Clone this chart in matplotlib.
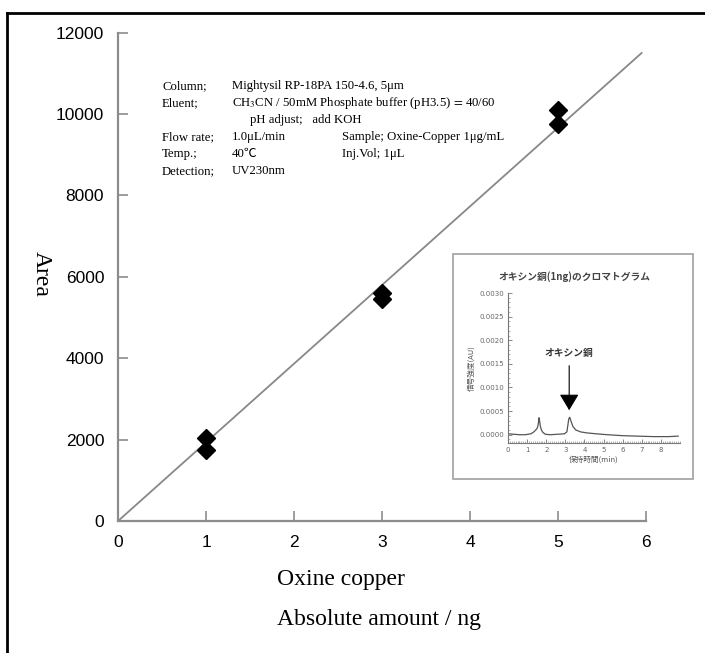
import matplotlib
matplotlib.use('Agg')
import matplotlib.pyplot as plt
from matplotlib.lines import Line2D
from matplotlib.patches import Rectangle
from matplotlib.ticker import MultipleLocator, FormatStrFormatter

plt.rcParams['mathtext.fontset'] = 'stix'

# calibration data (absolute amount ng, area)
amount = [1, 1, 3, 3, 5, 5]
area = [2040, 1740, 5600, 5450, 10100, 9750]
fit_x = [0, 5.95]
fit_y = [0, 11500]

# chromatogram of oxine copper (1 ng)
chrom_t = [0.0, 0.3, 0.6, 0.9, 1.2, 1.35, 1.45, 1.53, 1.58, 1.62, 1.65, 1.69, 1.75, 1.82, 1.95, 2.2,
           2.6, 2.95, 3.08, 3.13, 3.18, 3.23, 3.3, 3.4, 3.55, 3.8, 4.1, 4.6, 5.2, 6.0, 6.8, 7.6, 8.4, 8.9]
chrom_s = [0.00002, 0.00001, 0.0, 0.0, 0.00002, 0.00006, 0.00010, 0.00014, 0.00022, 0.00036, 0.00030,
           0.00018, 0.00010, 0.00005, 0.00001, 0.0, 0.00001, 0.00002, 0.00006, 0.00020, 0.00034, 0.00037,
           0.00028, 0.00017, 0.00010, 0.00006, 0.00004, 0.00002, 0.0, -0.00002, -0.00003, -0.00004,
           -0.00004, -0.00003]

x_ticks = [0, 1, 2, 3, 4, 5, 6]
y_ticks = [0, 2000, 4000, 6000, 8000, 10000, 12000]

fig = plt.figure(figsize=(7.05, 6.53), dpi=100)
ax = fig.add_axes([0.1674, 0.2021, 0.7489, 0.7479])

gray = '#8c8c8c'
ax.plot(fit_x, fit_y, color='#888888', lw=1.3, zorder=2)
ax.plot(amount, area, 'D', color='black', ms=9.5, zorder=3)

ax.set_xlim(0, 6)
ax.set_ylim(0, 12000)
ax.set_xticks(x_ticks)
ax.set_yticks(y_ticks)
for s in ['top', 'right']:
    ax.spines[s].set_visible(False)
for s in ['left', 'bottom']:
    ax.spines[s].set_color(gray)
    ax.spines[s].set_linewidth(1.6)
ax.tick_params(direction='in', length=7, width=1.2, color=gray, labelsize=12.5, pad=10)
for lab in ax.get_xticklabels() + ax.get_yticklabels():
    lab.set_fontfamily('Liberation Sans')

serif = ['Liberation Serif', 'Noto Sans CJK JP']
fig.text(0.393, 0.112, 'Oxine copper', fontsize=17, family=serif, ha='left', va='center')
fig.text(0.393, 0.052, 'Absolute amount / ng', fontsize=17, family=serif, ha='left', va='center')
fig.text(0.059, 0.58, 'Area', fontsize=17, family=serif, rotation=-90, ha='center', va='center')

# conditions block (y given in pixels from the top, baseline)
c1 = 0.230
c2 = 0.329
c3 = 0.485
info = [
    (c1, 89, 'Column;'), (c2, 89, 'Mightysil RP-18PA 150-4.6, 5\u03bcm'),
    (c1, 106, 'Eluent;'), (c2, 106, 'CH$_3$CN / 50mM Phosphate buffer (pH3.5)$\\,=\\,$40/60'),
    (0.355, 123, 'pH adjust;   add KOH'),
    (c1, 140, 'Flow rate;'), (c2, 140, '1.0\u03bcL/min'), (c3, 140, 'Sample; Oxine-Copper 1\u03bcg/mL'),
    (c1, 157, 'Temp.;'), (c2, 157, '40\u2103'), (c3, 157, 'Inj.Vol; 1\u03bcL'),
    (c1, 174, 'Detection;'), (c2, 174, 'UV230nm'),
]
for x, ypx, t in info:
    fig.text(x, 1 - ypx / 653, t, fontsize=9.2, family=serif, ha='left', va='baseline')

# inset box
fig.add_artist(Rectangle((0.6426, 0.2665), 0.340, 0.3446, transform=fig.transFigure,
                         fill=True, facecolor='white', edgecolor='#a0a0a0', lw=1.2, zorder=4))
jp = ['Noto Sans CJK JP', 'DejaVu Sans']
fig.text(0.815, 1 - 277 / 653, 'オキシン銅(1ng)のクロマトグラム', fontsize=7, family=jp,
         weight='bold', color='#444444', ha='center', va='center', zorder=5)

iax = fig.add_axes([0.7206, 0.3216, 0.2440, 0.2297], zorder=5)
iax.patch.set_alpha(0)
iax.plot(chrom_t, chrom_s, color='#555555', lw=0.9)
iax.set_xlim(0, 9)
iax.set_ylim(-0.000175, 0.003)
iax.set_xticks(range(9))
iax.set_yticks([0, 0.0005, 0.001, 0.0015, 0.002, 0.0025, 0.003])
iax.yaxis.set_major_formatter(FormatStrFormatter('%.4f'))
iax.xaxis.set_minor_locator(MultipleLocator(0.1))
iax.yaxis.set_minor_locator(MultipleLocator(0.0001))
for s in ['top', 'right']:
    iax.spines[s].set_visible(False)
for s in ['left', 'bottom']:
    iax.spines[s].set_color('#777777')
    iax.spines[s].set_linewidth(0.8)
iax.tick_params(which='major', direction='in', length=3, width=0.6, color='#777777',
                labelsize=5, labelcolor='#666666', pad=3)
iax.tick_params(which='minor', direction='in', length=1.5, width=0.4, color='#777777')
iax.set_xlabel('保持時間(min)', fontsize=5.5, family=jp, color='#555555', labelpad=2)
iax.set_ylabel('信号強度(AU)', fontsize=5.5, family=jp, color='#555555', labelpad=3)
iax.annotate('', xy=(3.2, 0.00046), xytext=(3.2, 0.00152),
             arrowprops=dict(arrowstyle='-|>,head_length=1.0,head_width=0.6', color='black', lw=0.8))
iax.text(3.2, 0.00172, 'オキシン銅', fontsize=7, family=jp, weight='bold', color='#333333',
         ha='center', va='center')

# page frame on top and left
fig.add_artist(Line2D([0.010, 1.0], [0.980, 0.980], transform=fig.transFigure, color='black', lw=2))
fig.add_artist(Line2D([0.010, 0.010], [0.0, 0.980], transform=fig.transFigure, color='black', lw=2))

fig.savefig('out.png', dpi=100)
